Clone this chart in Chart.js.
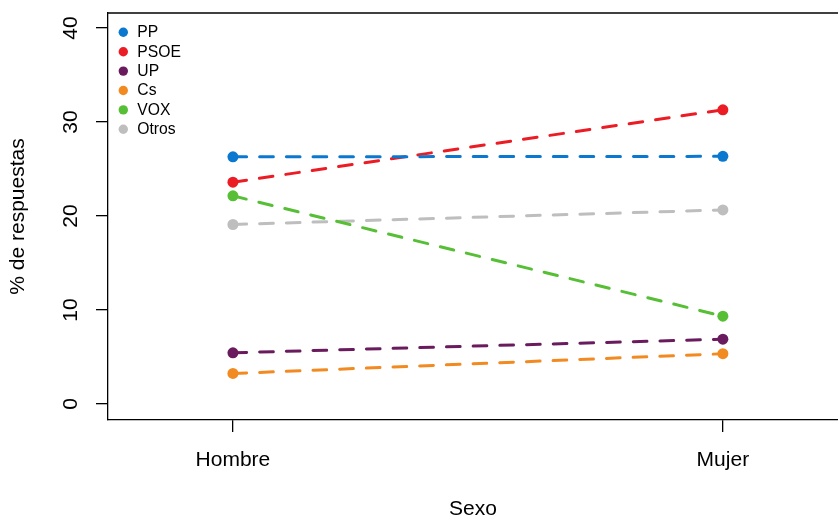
<!DOCTYPE html>
<html>
<head>
<meta charset="utf-8">
<script src="https://cdn.jsdelivr.net/npm/chart.js@4/dist/chart.umd.min.js"></script>
<style>
  html, body { margin: 0; padding: 0; background: #fff; }
  #wrap { width: 838px; height: 520px; }
</style>
</head>
<body>
<div id="wrap"><canvas id="votoChart" width="838" height="520"></canvas></div>
<script>
// ===== DATA =====
const categories = ["Hombre", "Mujer"];
const parties = ["PP", "PSOE", "UP", "Cs", "VOX", "Otros"];
const partyColors = ["#0B78D0", "#EC1C24", "#6A1B5E", "#F28A22", "#57BF36", "#BEBEBE"];
const ppValues = [26.3, 26.35];
const psoeValues = [23.6, 31.3];
const upValues = [5.45, 6.9];
const csValues = [3.25, 5.35];
const voxValues = [22.15, 9.35];
const otrosValues = [19.1, 20.65];
const yTicks = [0, 10, 20, 30, 40];

const seriesValues = [ppValues, psoeValues, upValues, csValues, voxValues, otrosValues];
const FONT = "'Liberation Sans', Arial, Helvetica, sans-serif";
Chart.defaults.font.family = FONT;
Chart.defaults.color = "#000";

// legend drawn inside the plot box, R style
const boxLegend = {
  id: "boxLegend",
  afterDraw(chart) {
    const { ctx, chartArea } = chart;
    ctx.save();
    // top edge of the box
    ctx.strokeStyle = "#000";
    ctx.lineWidth = 1.3;
    ctx.beginPath();
    ctx.moveTo(chartArea.left, chartArea.top);
    ctx.lineTo(chartArea.right + 2, chartArea.top);
    ctx.stroke();

    ctx.font = "15.7px " + FONT;
    ctx.textBaseline = "middle";
    ctx.textAlign = "left";
    chart.data.datasets.forEach((ds, i) => {
      const y = chartArea.top + 19.3 + i * 19.4;
      ctx.fillStyle = ds.borderColor;
      ctx.beginPath();
      ctx.arc(chartArea.left + 15.3, y, 4.7, 0, Math.PI * 2);
      ctx.fill();
      ctx.fillStyle = "#000";
      ctx.fillText(ds.label, chartArea.left + 29.3, y + 0.5);
    });
    ctx.restore();
  }
};

const datasets = parties.map((name, i) => ({
  label: name,
  data: seriesValues[i].map((v, j) => ({ x: j + 1, y: v })),
  borderColor: partyColors[i],
  backgroundColor: partyColors[i],
  pointBackgroundColor: partyColors[i],
  pointBorderWidth: 0,
  pointRadius: 5.5,
  borderWidth: 3,
  borderDash: [13.7, 13],
  borderCapStyle: "round",
  tension: 0
}));

new Chart(document.getElementById("votoChart"), {
  type: "line",
  data: { datasets: datasets },
  plugins: [boxLegend],
  options: {
    responsive: false,
    animation: false,
    layout: { autoPadding: false, padding: { top: 13, right: 0, left: 0, bottom: 0 } },
    plugins: {
      legend: { display: false },
      tooltip: { enabled: false }
    },
    scales: {
      x: {
        type: "linear",
        min: 0.745,
        max: 2.235,
        afterBuildTicks: s => { s.ticks = categories.map((c, i) => ({ value: i + 1 })); },
        afterFit: s => { s.height = 100; s.paddingLeft = 0; s.paddingRight = 0; },
        ticks: {
          callback: (v, i) => categories[i],
          font: { size: 21 },
          color: "#000",
          padding: 16,
          autoSkip: false,
          maxRotation: 0
        },
        grid: { drawOnChartArea: false, drawTicks: true, tickLength: 12, color: "#000", lineWidth: 1.3 },
        border: { display: true, color: "#000", width: 1.3 },
        title: { display: true, text: "Sexo", font: { size: 21, lineHeight: 1 }, padding: 0, color: "#000" }
      },
      y: {
        min: -1.7,
        max: 41.6,
        afterBuildTicks: s => { s.ticks = yTicks.map(v => ({ value: v })); },
        afterFit: s => { s.width = 108; s.paddingTop = 0; s.paddingBottom = 0; },
        ticks: {
          font: { size: 21 },
          color: "#000",
          minRotation: 90,
          maxRotation: 90,
          crossAlign: "center",
          padding: 13
        },
        grid: { drawOnChartArea: false, drawTicks: true, tickLength: 12, color: "#000", lineWidth: 1.3 },
        border: { display: true, color: "#000", width: 1.3 },
        title: { display: true, text: "% de respuestas", font: { size: 21 }, padding: { top: 5.4, bottom: 0 }, color: "#000" }
      }
    }
  }
});
</script>
</body>
</html>
